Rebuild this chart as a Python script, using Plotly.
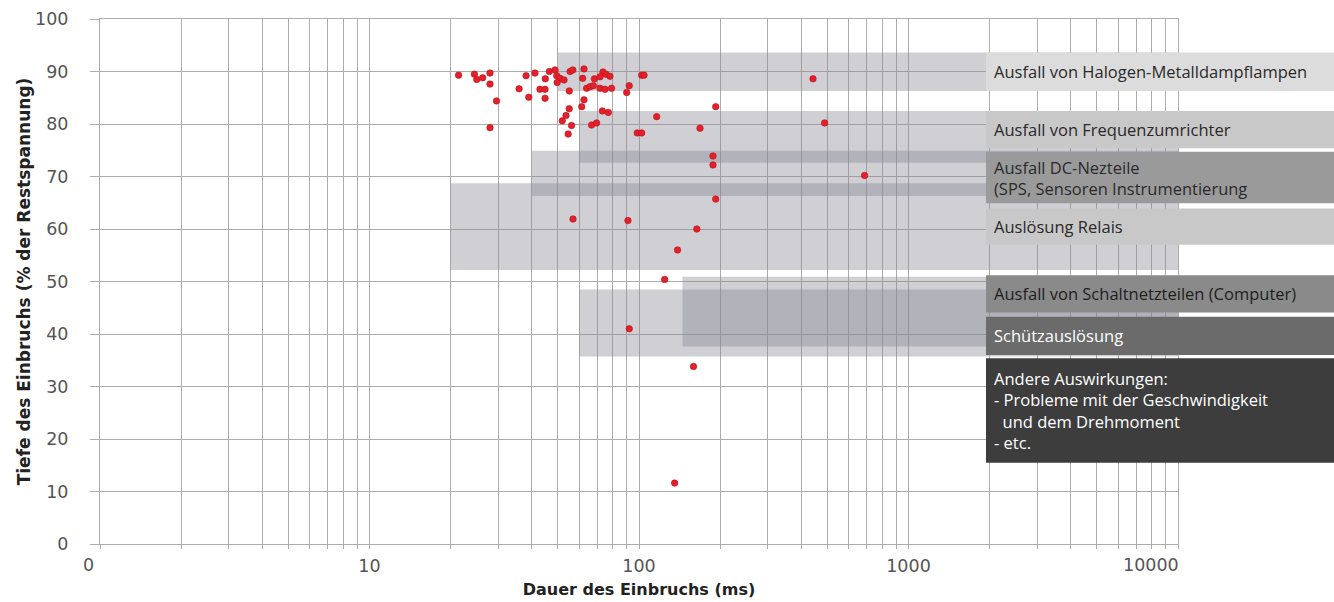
import plotly.graph_objects as go

# ---------------- data ----------------
durations_ms = [21.4, 24.5, 25.0, 26.3, 28.0, 28.0, 29.6, 28.0, 35.9, 38.1, 39.0, 41.1,
                42.9, 44.8, 44.8, 44.9, 46.5, 48.8, 49.5, 50.9, 52.7, 49.7, 55.5, 56.8,
                55.1, 62.5, 61.8, 68.3, 63.9, 65.8, 67.7, 73.5, 75.4, 78.0, 71.7, 71.7,
                74.8, 79.1, 62.5, 61.3, 55.1, 53.6, 51.9, 56.2, 54.6, 66.7, 69.6, 73.1,
                76.9, 90.0, 92.0, 102.3, 104.4, 98.5, 102.3, 116.3, 168.4, 192.6, 188.2,
                188.2, 192.6, 56.9, 91.0, 163.9, 139.0, 124.5, 92.0, 159.3, 135.6,
                442.2, 488.4, 687.1]
depths_pct = [89.3, 89.5, 88.5, 88.8, 89.7, 87.6, 84.4, 79.3, 86.7, 89.2, 85.1, 89.7,
              86.6, 86.6, 84.9, 88.6, 90.0, 90.3, 89.2, 88.7, 88.4, 87.9, 90.0, 90.3,
              86.3, 90.5, 88.7, 88.6, 86.8, 87.1, 87.3, 89.9, 89.5, 89.1, 89.0, 86.8,
              86.6, 86.8, 84.6, 83.3, 82.9, 81.6, 80.6, 79.7, 78.1, 79.8, 80.2, 82.5,
              82.2, 86.0, 87.3, 89.3, 89.3, 78.3, 78.3, 81.4, 79.2, 83.3, 73.9,
              72.2, 65.7, 61.9, 61.6, 60.0, 56.0, 50.4, 41.0, 33.8, 11.6,
              88.6, 80.2, 70.2]

# sensitivity bands (start duration in ms, low / high residual voltage in %)
band_start_ms = [50, 60, 40, 20, 145, 60]
band_low_pct = [86.3, 72.6, 66.3, 52.2, 37.6, 35.7]
band_high_pct = [93.6, 82.5, 74.9, 68.7, 50.9, 48.5]
band_end_ms = 10000

# legend boxes on the right
box_texts = [
    "Ausfall von Halogen-Metalldampflampen",
    "Ausfall von Frequenzumrichter",
    "Ausfall DC-Nezteile<br>(SPS, Sensoren Instrumentierung",
    "Auslösung Relais",
    "Ausfall von Schaltnetzteilen (Computer)",
    "Schützauslösung",
    "Andere Auswirkungen:<br>- Probleme mit der Geschwindigkeit<br>  und dem Drehmoment<br>- etc.",
]
box_low = [86.3, 75.4, 64.9, 57.0, 44.1, 36.0, 15.5]
box_high = [93.6, 82.5, 74.7, 63.9, 51.2, 43.3, 35.4]
box_colors = ["#dcdcdc", "#c8c8c8", "#9a9a9a", "#c8c8c8", "#8a8a8a", "#6b6b6b", "#3d3d3d"]
box_text_colors = ["#2a2a2a", "#2a2a2a", "#2a2a2a", "#2a2a2a", "#1e1e1e", "#ffffff", "#ffffff"]

x_tickvals = [m * 10 ** e for e in range(4) for m in range(1, 10)] + [10000]
x_ticktext = ["" if v not in (10, 100, 1000) else str(v) for v in x_tickvals]
y_tickvals = list(range(0, 101, 10))

# ---------------- figure ----------------
W, H = 1334, 602
ML, MR, MT, MB = 100, 156, 19, 58
plot_w = W - ML - MR

fig = go.Figure()

for x0, lo, hi in zip(band_start_ms, band_low_pct, band_high_pct):
    fig.add_trace(go.Scatter(
        x=[x0, band_end_ms, band_end_ms, x0, x0],
        y=[lo, lo, hi, hi, lo],
        mode="lines", line=dict(width=0),
        fill="toself", fillcolor="rgba(135,135,148,0.40)",
        hoverinfo="skip", showlegend=False))

fig.add_trace(go.Scatter(
    x=durations_ms, y=depths_pct, mode="markers",
    marker=dict(color="#e5202b", size=6.5, line=dict(color="#b5101c", width=0.6)),
    showlegend=False))

box_x0 = (986 - ML) / plot_w
box_x1 = (W + 10 - ML) / plot_w
text_x = (992 - ML) / plot_w
for txt, lo, hi, col, tcol in zip(box_texts, box_low, box_high, box_colors, box_text_colors):
    fig.add_shape(type="rect", xref="paper", yref="y", x0=box_x0, x1=box_x1,
                  y0=lo, y1=hi, fillcolor=col, line=dict(width=0), layer="above")
    fig.add_annotation(xref="paper", yref="y", x=text_x, y=(lo + hi) / 2,
                       xanchor="left", yanchor="middle", align="left",
                       text=txt, showarrow=False,
                       font=dict(family="Open Sans", size=16.5, color=tcol))

tick_font = dict(family="DejaVu Sans", size=17.5, color="#555555")
# end labels of the x axis
fig.add_annotation(xref="paper", yref="paper", x=0, y=0, xanchor="right", yanchor="top",
                   xshift=-4, yshift=-9, text="0", showarrow=False, font=tick_font)
fig.add_annotation(xref="paper", yref="paper", x=1, y=0, xanchor="right", yanchor="top",
                   xshift=3, yshift=-9, text="10000", showarrow=False, font=tick_font)

grid = "#acacac"
fig.update_xaxes(
    type="log", range=[0, 4],
    tickvals=x_tickvals, ticktext=x_ticktext,
    showgrid=True, gridcolor=grid, gridwidth=1,
    ticks="outside", ticklen=4, tickcolor=grid,
    showline=True, linecolor=grid, mirror=True,
    tickfont=tick_font, ticklabelstandoff=2,
    zeroline=False,
    title=dict(text="Dauer des Einbruchs (ms)", standoff=8,
               font=dict(family="DejaVu Sans", size=16, color="#222222", weight="bold")),
)
fig.update_yaxes(
    range=[0, 100], tickvals=y_tickvals,
    showgrid=True, gridcolor=grid, gridwidth=1,
    ticks="outside", ticklen=9, tickcolor=grid,
    showline=True, linecolor=grid, mirror=True,
    tickfont=tick_font, ticklabelstandoff=18,
    zeroline=False,
    title=dict(text="Tiefe des Einbruchs (% der Restspannung)", standoff=0,
               font=dict(family="DejaVu Sans", size=17, color="#222222", weight="bold")),
)

fig.update_layout(
    width=W, height=H,
    margin=dict(l=ML, r=MR, t=MT, b=MB, autoexpand=False),
    plot_bgcolor="white", paper_bgcolor="white",
    showlegend=False,
)

fig.write_html("out.html", config={"displayModeBar": False},
               post_script="document.body.style.margin='0px';")
